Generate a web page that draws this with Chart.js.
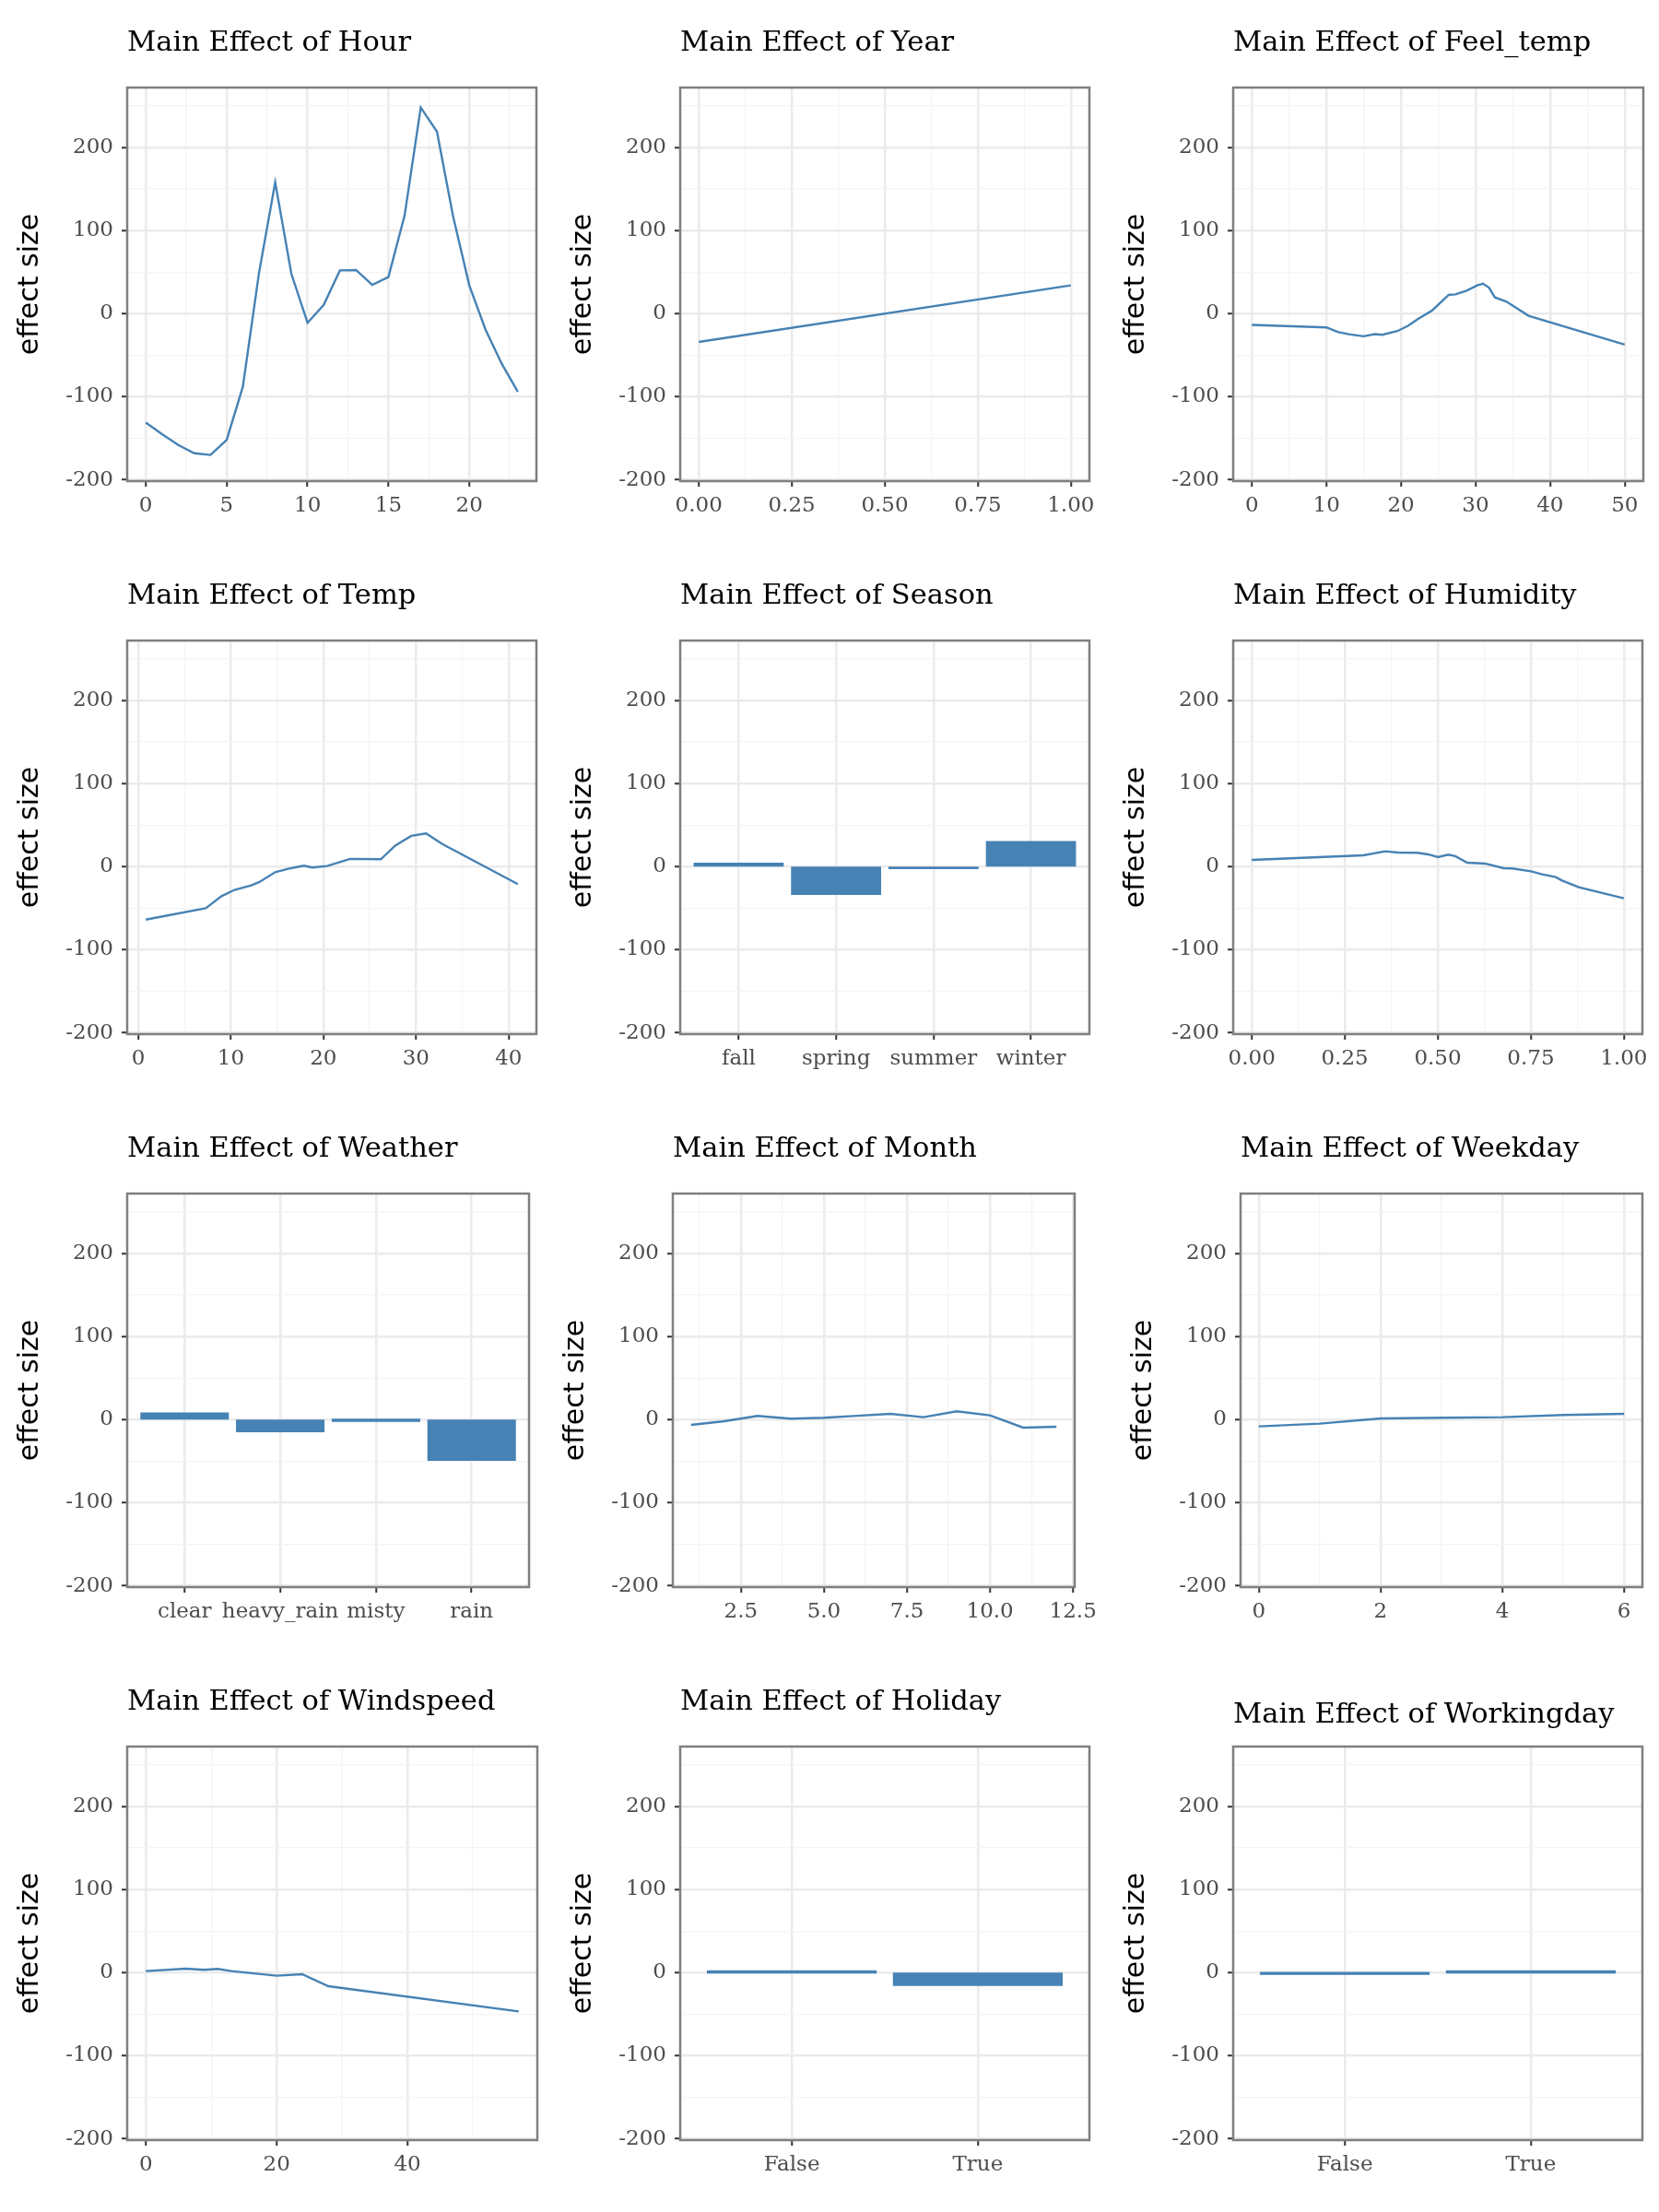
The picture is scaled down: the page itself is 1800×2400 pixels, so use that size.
<!DOCTYPE html>
<html lang="en">
<head>
<meta charset="UTF-8">
<title>Main effects</title>
<style>
  html, body { margin: 0; padding: 0; background: #ffffff; }
  body { position: relative; width: 1800px; height: 2400px; overflow: hidden; }
  canvas { position: absolute; display: block; }
</style>
</head>
<body>

<script src="https://cdn.jsdelivr.net/npm/chart.js@4.4.1/dist/chart.umd.min.js"></script>
<script>

// ---- data ----
const hourX = [0, 1, 2, 3, 4, 5, 6, 7, 8, 9, 10, 11, 12, 13, 14, 15, 16, 17, 18, 19, 20, 21, 22, 23];
const hourY = [-131, -145, -158, -168, -170, -152, -88, 49, 158, 48, -11, 10.5, 52, 52.5, 34.5, 44, 118, 248, 219, 117, 34, -19, -60, -94];

const yearX = [0, 1];
const yearY = [-34, 34];

const feelTempX = [0, 10, 11.5, 13, 15, 16.5, 17.5, 19.5, 21, 22.2, 24.2, 26.4, 27.3, 28.8, 30.3, 31, 31.8, 32.6, 34.1, 35.3, 37.1, 50];
const feelTempY = [-13.6, -16.6, -22, -24.7, -27.3, -24.7, -25.4, -21, -14.4, -7, 4, 22.5, 23.2, 27.6, 34.3, 36, 31.3, 19.5, 14.7, 7.7, -2.6, -37.2];

const tempX = [0.82, 7.3, 9.0, 10.4, 12.2, 13.1, 14.8, 16.2, 17.4, 17.9, 18.8, 20.4, 22.9, 26.2, 27.8, 29.5, 31.1, 32.8, 41];
const tempY = [-63.7, -50, -35.6, -28, -22.6, -18.5, -6.7, -2.6, 0, 1.1, -1.1, 0.7, 9.3, 8.9, 25.6, 37, 40, 27.4, -21];

const seasonCats = ['fall', 'spring', 'summer', 'winter'];
const seasonY = [3.4, -32.6, -1.5, 29.3];

const humidityX = [0, 0.30, 0.359, 0.392, 0.445, 0.474, 0.5, 0.528, 0.547, 0.579, 0.627, 0.677, 0.70, 0.751, 0.78, 0.817, 0.834, 0.879, 1.0];
const humidityY = [8.1, 13.7, 18.5, 17, 16.7, 14.8, 11.5, 14.4, 12.6, 4.8, 3.7, -1.9, -2.2, -5.6, -9.3, -12.6, -16.7, -24.8, -38];

const weatherCats = ['clear', 'heavy_rain', 'misty', 'rain'];
const weatherY = [7.1, -13.7, -0.4, -48.2];

const monthX = [1, 2, 3, 4, 5, 6, 7, 8, 9, 10, 11, 12];
const monthY = [-6.3, -1.9, 4.4, 1.1, 2.2, 4.6, 7, 3, 10, 5.2, -9.6, -8.5];

const weekdayX = [0, 1, 2, 3, 4, 5, 6];
const weekdayY = [-8.1, -4.8, 1.5, 2.2, 3, 5.6, 7];

const windspeedX = [0, 6.1, 8.9, 11, 13.1, 20, 23.9, 27.9, 57];
const windspeedY = [1.9, 4.8, 3.3, 4.4, 1.9, -3.7, -1.9, -16.3, -46.7];

const holidayCats = ['False', 'True'];
const holidayY = [0.3, -14.7];

const workingdayCats = ['False', 'True'];
const workingdayY = [-0.6, 0.4];

// y axis ticks (shared)
const yMajor = [-200, -100, 0, 100, 200];
const yMinor = [-150, -50, 50, 150, 250];

// ---- look ----
const BLUE = '#4682b4';
const SERIF = "'DejaVu Serif', 'Liberation Serif', serif";
const SANS = "'DejaVu Sans', 'Liberation Sans', sans-serif";
const L = 135, T = 90, R = 40, B = 70;

const frame = {
    id: 'frame',
    afterDatasetsDraw(chart) {
        const a = chart.chartArea;
        const ctx = chart.ctx;
        ctx.save();
        ctx.strokeStyle = '#7f7f7f';
        ctx.lineWidth = 2.5;
        ctx.strokeRect(a.left, a.top, a.right - a.left, a.bottom - a.top);
        ctx.restore();
    }
};

function gridOpts(majors) {
    const isMajor = ctx => ctx.tick && majors.includes(ctx.tick.value);
    return {
        color: ctx => isMajor(ctx) ? '#ebebeb' : '#f4f4f4',
        lineWidth: ctx => isMajor(ctx) ? 2.5 : 1.3,
        tickColor: ctx => isMajor(ctx) ? '#333333' : 'rgba(0,0,0,0)',
        tickWidth: 2,
        tickLength: 6,
        drawTicks: true,
        offset: false
    };
}

function panel(p) {
    const [left, top, w, h] = p.box;
    const canvas = document.createElement('canvas');
    canvas.width = L + w + R;
    canvas.height = T + h + B;
    canvas.style.left = (left - L) + 'px';
    canvas.style.top = (top - T) + 'px';
    document.body.appendChild(canvas);

    let xs = p.x, xMajor, xAll, xMin, xMax, fmt;
    if (p.cats) {
        xs = p.cats.map((c, i) => i + 1);
        xMajor = xs;
        xAll = xs;
        xMin = 0.4;
        xMax = p.cats.length + 0.6;
        fmt = v => p.cats[Math.round(v) - 1];
    } else {
        xMajor = p.xMajor;
        xAll = p.xMajor.concat(p.xMinor).sort((a, b) => a - b);
        const lo = Math.min(...p.x), hi = Math.max(...p.x);
        xMin = lo - 0.05 * (hi - lo);
        xMax = hi + 0.05 * (hi - lo);
        fmt = p.fmt || (v => String(v));
    }
    const points = xs.map((x, i) => ({x: x, y: p.y[i]}));
    const dy = p.titleShift || 0;

    new Chart(canvas, {
        type: p.cats ? 'bar' : 'line',
        data: {
            datasets: [{
                data: points,
                borderColor: BLUE,
                backgroundColor: BLUE,
                borderWidth: p.cats ? 0 : 2.4,
                inflateAmount: 1.3,
                pointRadius: 0,
                tension: 0,
                barPercentage: 0.9,
                categoryPercentage: 1
            }]
        },
        options: {
            responsive: false,
            animation: false,
            layout: {padding: {left: 0, top: 0, right: R, bottom: 0}},
            plugins: {
                legend: {display: false},
                tooltip: {enabled: false},
                title: {
                    display: true,
                    text: p.title,
                    align: 'start',
                    fullSize: false,
                    color: '#000000',
                    font: {family: SERIF, size: 30.5, weight: 'normal', lineHeight: 1.2},
                    padding: {top: 24 + dy, bottom: 29.4 - dy}
                }
            },
            scales: {
                x: {
                    type: 'linear',
                    min: xMin,
                    max: xMax,
                    bounds: 'data',
                    offset: false,
                    afterBuildTicks: s => { s.ticks = xAll.map(v => ({value: v})); },
                    afterFit: s => { s.height = B; },
                    grid: gridOpts(xMajor),
                    border: {display: false},
                    ticks: {
                        autoSkip: false,
                        maxRotation: 0,
                        padding: 7,
                        color: '#4d4d4d',
                        font: {family: SERIF, size: 23},
                        callback: v => xMajor.includes(v) ? fmt(v) : ''
                    }
                },
                y: {
                    type: 'linear',
                    min: -201.5,
                    max: 272,
                    bounds: 'data',
                    afterBuildTicks: s => {
                        s.ticks = yMajor.concat(yMinor).sort((a, b) => a - b).map(v => ({value: v}));
                    },
                    afterFit: s => { s.width = L; },
                    grid: gridOpts(yMajor),
                    border: {display: false},
                    title: {
                        display: true,
                        text: 'effect size',
                        color: '#000000',
                        font: {family: SANS, size: 30},
                        padding: {top: 12, bottom: 0}
                    },
                    ticks: {
                        autoSkip: false,
                        padding: 9,
                        color: '#4d4d4d',
                        font: {family: SERIF, size: 23},
                        callback: v => yMajor.includes(v) ? String(v) : ''
                    }
                }
            }
        },
        plugins: [frame]
    });
}

const fmt2 = v => v.toFixed(2);
const fmt1 = v => v.toFixed(1);

panel({title: 'Main Effect of Hour', box: [138, 95, 444, 427], x: hourX, y: hourY,
       xMajor: [0, 5, 10, 15, 20], xMinor: [2.5, 7.5, 12.5, 17.5, 22.5]});
panel({title: 'Main Effect of Year', box: [738, 95, 444, 427], x: yearX, y: yearY,
       xMajor: [0, 0.25, 0.5, 0.75, 1], xMinor: [0.125, 0.375, 0.625, 0.875], fmt: fmt2});
panel({title: 'Main Effect of Feel_temp', box: [1338, 95, 445, 427], x: feelTempX, y: feelTempY,
       xMajor: [0, 10, 20, 30, 40, 50], xMinor: [5, 15, 25, 35, 45]});

panel({title: 'Main Effect of Temp', box: [138, 695, 444, 427], x: tempX, y: tempY,
       xMajor: [0, 10, 20, 30, 40], xMinor: [5, 15, 25, 35]});
panel({title: 'Main Effect of Season', box: [738, 695, 444, 427], cats: seasonCats, y: seasonY});
panel({title: 'Main Effect of Humidity', box: [1338, 695, 444, 427], x: humidityX, y: humidityY,
       xMajor: [0, 0.25, 0.5, 0.75, 1], xMinor: [0.125, 0.375, 0.625, 0.875], fmt: fmt2});

panel({title: 'Main Effect of Weather', box: [138, 1295, 436, 427], cats: weatherCats, y: weatherY});
panel({title: 'Main Effect of Month', box: [730, 1295, 436, 427], x: monthX, y: monthY,
       xMajor: [2.5, 5, 7.5, 10, 12.5], xMinor: [1.25, 3.75, 6.25, 8.75, 11.25], fmt: fmt1});
panel({title: 'Main Effect of Weekday', box: [1346, 1295, 436, 427], x: weekdayX, y: weekdayY,
       xMajor: [0, 2, 4, 6], xMinor: [1, 3, 5]});

panel({title: 'Main Effect of Windspeed', box: [138, 1895, 445, 427], x: windspeedX, y: windspeedY,
       xMajor: [0, 20, 40], xMinor: [10, 30, 50]});
panel({title: 'Main Effect of Holiday', box: [738, 1895, 444, 427], cats: holidayCats, y: holidayY});
panel({title: 'Main Effect of Workingday', box: [1338, 1895, 444, 427], cats: workingdayCats, y: workingdayY,
       titleShift: 14});

</script>
</body>
</html>
